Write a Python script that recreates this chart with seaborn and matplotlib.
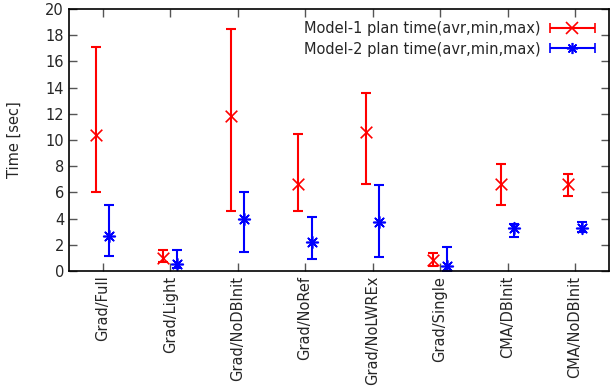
import numpy as np
import seaborn as sns
import matplotlib
matplotlib.use("Agg")
import matplotlib.pyplot as plt
from matplotlib.container import ErrorbarContainer
from matplotlib.legend_handler import HandlerErrorbar

labels = ["Grad/Full", "Grad/Light", "Grad/NoDBInit", "Grad/NoRef",
          "Grad/NoLWREx", "Grad/Single", "CMA/DBInit", "CMA/NoDBInit"]

m1_avg = [10.4, 1.0, 11.8, 6.6, 10.6, 0.85, 6.65, 6.6]
m1_min = [6.05, 0.65, 4.55, 4.6, 6.6, 0.35, 5.0, 5.75]
m1_max = [17.1, 1.6, 18.5, 10.45, 13.55, 1.35, 8.2, 7.4]

m2_avg = [2.7, 0.55, 4.0, 2.2, 3.7, 0.35, 3.25, 3.3]
m2_min = [1.1, 0.25, 1.45, 0.9, 1.05, 0.0, 2.55, 2.95]
m2_max = [5.05, 1.6, 6.0, 4.1, 6.55, 1.85, 3.6, 3.7]

sns.set_style("ticks")
plt.rcParams["font.family"] = ["DejaVu Sans"]

fig = plt.figure(figsize=(6.1, 3.92), dpi=100)
ax = fig.add_axes([0.113, 0.309, 0.885, 0.668])

x = np.arange(1, len(labels) + 1)

def draw(xs, avg, lo, hi, color, marker, label):
    avg = np.array(avg)
    err = [avg - np.array(lo), np.array(hi) - avg]
    ax.errorbar(xs, avg, yerr=err, fmt="none", ecolor=color, elinewidth=1.5,
                capsize=3.6, capthick=1.5)
    sns.scatterplot(x=xs, y=avg, ax=ax, color=color, marker=marker, s=70,
                    linewidth=1.2, legend=False)
    # legend sample (horizontal bar like gnuplot's key)
    ax.errorbar([np.nan], [np.nan], xerr=[[1], [1]], linestyle="none",
                marker=marker, color=color, ms=8, mew=1.2, elinewidth=1.5,
                capsize=3.6, capthick=1.5, label=label)

draw(x - 0.1, m1_avg, m1_min, m1_max, "#ff0000", "x", "Model-1 plan time(avr,min,max)")
draw(x + 0.1, m2_avg, m2_min, m2_max, "#0000ff", (8, 2, 0), "Model-2 plan time(avr,min,max)")

ax.set_xlim(0.5, 8.5)
ax.set_ylim(0, 20)
ax.set_yticks(range(0, 21, 2))
ax.set_xticks(x)
ax.set_xticklabels(labels, rotation=90, fontsize=10.5)
ax.tick_params(axis="y", labelsize=10.5)
ax.tick_params(direction="in", length=6, width=1, color="#555555",
               top=True, right=True)
ax.set_ylabel("Time [sec]", fontsize=10.5)
ax.yaxis.set_label_coords(-0.088, 0.5)
for s in ax.spines.values():
    s.set_linewidth(1.2)
    s.set_color("black")

leg = ax.legend(loc="upper right", frameon=False, markerfirst=False,
                fontsize=10.5, handlelength=3.4, borderaxespad=0.4,
                labelspacing=0.4, handletextpad=0.5,
                handler_map={ErrorbarContainer: HandlerErrorbar(xerr_size=1.55)})

fig.savefig("out.png", dpi=100)
